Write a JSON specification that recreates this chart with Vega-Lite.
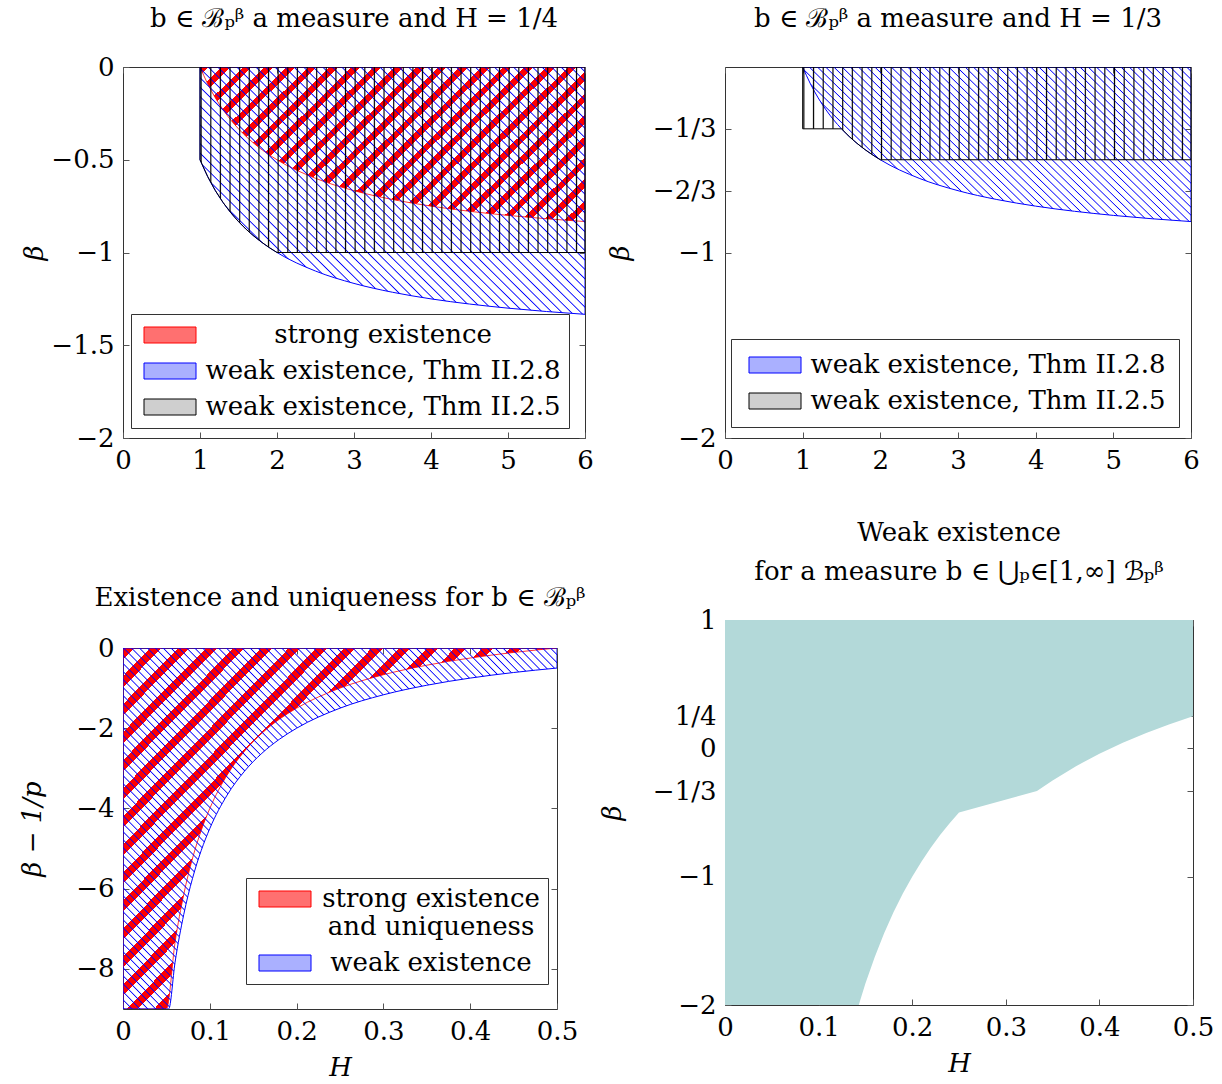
{
"$schema": "https://vega.github.io/schema/vega-lite/v6.json",
"background": "white",
"padding": {"left": 19, "top": 5, "right": 4, "bottom": 4},
"config": {
 "font": "DejaVu Serif",
 "view": {"stroke": "#333", "strokeWidth": 1},
 "axis": {"labelFont": "DejaVu Serif", "labelFontSize": 26, "labelColor": "#000", "titleFont": "DejaVu Serif", "titleFontSize": 26, "titleFontWeight": "normal", "titleFontStyle": "italic", "titleColor": "#000", "grid": false, "domain": false, "tickColor": "#555", "tickSize": -6, "labelFlush": false, "labelOverlap": false, "labelPadding": 15},
 "title": {"font": "DejaVu Serif", "fontSize": 26, "fontWeight": "normal", "color": "#000", "anchor": "middle"},
 "legend": {"orient": "none", "strokeColor": "#333", "fillColor": "#fff", "padding": 8, "symbolType": "M-1,-1H5.5V1H-1Z", "symbolSize": 256, "symbolStrokeWidth": 1, "labelFont": "DejaVu Serif", "labelFontSize": 26, "labelColor": "#000", "rowPadding": 10, "labelAlign": "center", "labelLimit": 600, "symbolOpacity": 1}
},
"resolve": {"scale": {"stroke": "independent", "fill": "independent"}},
"spacing": 4,
"hconcat": [
{"spacing": 110, "resolve": {"scale": {"stroke": "independent", "fill": "independent"}},
 "vconcat": [
 {"width": 462, "height": 371,
  "title": {"text": "b ∈ ℬₚᵝ a measure and H = 1/4", "offset": 22},
  "data": {"values": [
   {"s":"r","x":1,"lo":0},{"s":"r","x":1.1,"lo":-0.0909},{"s":"r","x":1.2,"lo":-0.1667},{"s":"r","x":1.3,"lo":-0.2308},{"s":"r","x":1.4,"lo":-0.2857},{"s":"r","x":1.5,"lo":-0.3333},{"s":"r","x":1.75,"lo":-0.4286},{"s":"r","x":2,"lo":-0.5},{"s":"r","x":2.5,"lo":-0.6},{"s":"r","x":3,"lo":-0.6667},{"s":"r","x":3.5,"lo":-0.7143},{"s":"r","x":4,"lo":-0.75},{"s":"r","x":4.5,"lo":-0.7778},{"s":"r","x":5,"lo":-0.8},{"s":"r","x":5.5,"lo":-0.8182},{"s":"r","x":6,"lo":-0.8333},
   {"s":"b","x":1,"lo":-0.5},{"s":"b","x":1.1,"lo":-0.5909},{"s":"b","x":1.2,"lo":-0.6667},{"s":"b","x":1.3,"lo":-0.7308},{"s":"b","x":1.4,"lo":-0.7857},{"s":"b","x":1.5,"lo":-0.8333},{"s":"b","x":1.75,"lo":-0.9286},{"s":"b","x":2,"lo":-1},{"s":"b","x":2.5,"lo":-1.1},{"s":"b","x":3,"lo":-1.1667},{"s":"b","x":3.5,"lo":-1.2143},{"s":"b","x":4,"lo":-1.25},{"s":"b","x":4.5,"lo":-1.2778},{"s":"b","x":5,"lo":-1.3},{"s":"b","x":5.5,"lo":-1.3182},{"s":"b","x":6,"lo":-1.3333},
   {"s":"k","x":1,"lo":-0.5},{"s":"k","x":1.1,"lo":-0.5909},{"s":"k","x":1.2,"lo":-0.6667},{"s":"k","x":1.3,"lo":-0.7308},{"s":"k","x":1.4,"lo":-0.7857},{"s":"k","x":1.5,"lo":-0.8333},{"s":"k","x":1.6,"lo":-0.875},{"s":"k","x":1.7,"lo":-0.9118},{"s":"k","x":1.8,"lo":-0.9444},{"s":"k","x":1.9,"lo":-0.9737},{"s":"k","x":2,"lo":-1},{"s":"k","x":6,"lo":-1}
  ]},
  "resolve": {"axis": {"x": "independent", "y": "independent"}},
  "layer": [
   {"transform": [{"filter": "datum.s=='r'"}],
    "mark": {"type": "area", "interpolate": "monotone", "clip": true, "stroke": "#f00", "strokeWidth": 0.8,
     "fill": {"gradient": "linear", "x1": 0, "y1": 0, "x2": 1.207, "y2": 0.491, "stops": [
{"offset":0,"color":"#f00"},{"offset":0.016,"color":"#f00"},{"offset":0.016,"color":"#f000"},{"offset":0.04,"color":"#f000"},
{"offset":0.04,"color":"#f00"},{"offset":0.056,"color":"#f00"},{"offset":0.056,"color":"#f000"},{"offset":0.08,"color":"#f000"},
{"offset":0.08,"color":"#f00"},{"offset":0.096,"color":"#f00"},{"offset":0.096,"color":"#f000"},{"offset":0.12,"color":"#f000"},
{"offset":0.12,"color":"#f00"},{"offset":0.136,"color":"#f00"},{"offset":0.136,"color":"#f000"},{"offset":0.16,"color":"#f000"},
{"offset":0.16,"color":"#f00"},{"offset":0.176,"color":"#f00"},{"offset":0.176,"color":"#f000"},{"offset":0.2,"color":"#f000"},
{"offset":0.2,"color":"#f00"},{"offset":0.216,"color":"#f00"},{"offset":0.216,"color":"#f000"},{"offset":0.24,"color":"#f000"},
{"offset":0.24,"color":"#f00"},{"offset":0.256,"color":"#f00"},{"offset":0.256,"color":"#f000"},{"offset":0.28,"color":"#f000"},
{"offset":0.28,"color":"#f00"},{"offset":0.296,"color":"#f00"},{"offset":0.296,"color":"#f000"},{"offset":0.32,"color":"#f000"},
{"offset":0.32,"color":"#f00"},{"offset":0.336,"color":"#f00"},{"offset":0.336,"color":"#f000"},{"offset":0.36,"color":"#f000"},
{"offset":0.36,"color":"#f00"},{"offset":0.376,"color":"#f00"},{"offset":0.376,"color":"#f000"},{"offset":0.4,"color":"#f000"},
{"offset":0.4,"color":"#f00"},{"offset":0.416,"color":"#f00"},{"offset":0.416,"color":"#f000"},{"offset":0.44,"color":"#f000"},
{"offset":0.44,"color":"#f00"},{"offset":0.456,"color":"#f00"},{"offset":0.456,"color":"#f000"},{"offset":0.48,"color":"#f000"},
{"offset":0.48,"color":"#f00"},{"offset":0.496,"color":"#f00"},{"offset":0.496,"color":"#f000"},{"offset":0.52,"color":"#f000"},
{"offset":0.52,"color":"#f00"},{"offset":0.536,"color":"#f00"},{"offset":0.536,"color":"#f000"},{"offset":0.56,"color":"#f000"},
{"offset":0.56,"color":"#f00"},{"offset":0.576,"color":"#f00"},{"offset":0.576,"color":"#f000"},{"offset":0.6,"color":"#f000"},
{"offset":0.6,"color":"#f00"},{"offset":0.616,"color":"#f00"},{"offset":0.616,"color":"#f000"},{"offset":0.64,"color":"#f000"},
{"offset":0.64,"color":"#f00"},{"offset":0.656,"color":"#f00"},{"offset":0.656,"color":"#f000"},{"offset":0.68,"color":"#f000"},
{"offset":0.68,"color":"#f00"},{"offset":0.696,"color":"#f00"},{"offset":0.696,"color":"#f000"},{"offset":0.72,"color":"#f000"},
{"offset":0.72,"color":"#f00"},{"offset":0.736,"color":"#f00"},{"offset":0.736,"color":"#f000"},{"offset":0.76,"color":"#f000"},
{"offset":0.76,"color":"#f00"},{"offset":0.776,"color":"#f00"},{"offset":0.776,"color":"#f000"},{"offset":0.8,"color":"#f000"},
{"offset":0.8,"color":"#f00"},{"offset":0.816,"color":"#f00"},{"offset":0.816,"color":"#f000"},{"offset":0.84,"color":"#f000"},
{"offset":0.84,"color":"#f00"},{"offset":0.856,"color":"#f00"},{"offset":0.856,"color":"#f000"},{"offset":0.88,"color":"#f000"},
{"offset":0.88,"color":"#f00"},{"offset":0.896,"color":"#f00"},{"offset":0.896,"color":"#f000"},{"offset":0.92,"color":"#f000"},
{"offset":0.92,"color":"#f00"},{"offset":0.936,"color":"#f00"},{"offset":0.936,"color":"#f000"},{"offset":0.96,"color":"#f000"},
{"offset":0.96,"color":"#f00"},{"offset":0.976,"color":"#f00"},{"offset":0.976,"color":"#f000"},{"offset":1,"color":"#f000"}
     ]}},
    "encoding": {
     "x": {"field": "x", "type": "quantitative", "scale": {"domain": [0, 6], "nice": false, "zero": false}, "axis": {"values": [0,1,2,3,4,5,6], "format": "~g", "title": null}},
     "y": {"field": "lo", "type": "quantitative", "scale": {"domain": [-2, 0], "nice": false, "zero": false}, "axis": {"values": [0,-0.5,-1,-1.5,-2], "format": "~g", "title": "β", "titlePadding": 3}},
     "y2": {"datum": 0}}},
   {"transform": [{"filter": "datum.s=='b'"}],
    "mark": {"type": "area", "interpolate": "monotone", "clip": true, "stroke": "#00f", "strokeWidth": 1,
     "fill": {"gradient": "linear", "x1": 0, "y1": 1, "x2": 1.16, "y2": 0.245, "stops": [
{"offset":0,"color":"#00f0"},{"offset":0.002,"color":"#00f"},{"offset":0.004,"color":"#00f0"},
{"offset":0.015,"color":"#00f0"},{"offset":0.017,"color":"#00f"},{"offset":0.019,"color":"#00f0"},
{"offset":0.03,"color":"#00f0"},{"offset":0.032,"color":"#00f"},{"offset":0.034,"color":"#00f0"},
{"offset":0.045,"color":"#00f0"},{"offset":0.047,"color":"#00f"},{"offset":0.049,"color":"#00f0"},
{"offset":0.06,"color":"#00f0"},{"offset":0.062,"color":"#00f"},{"offset":0.064,"color":"#00f0"},
{"offset":0.075,"color":"#00f0"},{"offset":0.077,"color":"#00f"},{"offset":0.079,"color":"#00f0"},
{"offset":0.09,"color":"#00f0"},{"offset":0.092,"color":"#00f"},{"offset":0.094,"color":"#00f0"},
{"offset":0.105,"color":"#00f0"},{"offset":0.107,"color":"#00f"},{"offset":0.109,"color":"#00f0"},
{"offset":0.12,"color":"#00f0"},{"offset":0.122,"color":"#00f"},{"offset":0.124,"color":"#00f0"},
{"offset":0.135,"color":"#00f0"},{"offset":0.137,"color":"#00f"},{"offset":0.139,"color":"#00f0"},
{"offset":0.15,"color":"#00f0"},{"offset":0.152,"color":"#00f"},{"offset":0.154,"color":"#00f0"},
{"offset":0.165,"color":"#00f0"},{"offset":0.167,"color":"#00f"},{"offset":0.169,"color":"#00f0"},
{"offset":0.18,"color":"#00f0"},{"offset":0.182,"color":"#00f"},{"offset":0.184,"color":"#00f0"},
{"offset":0.195,"color":"#00f0"},{"offset":0.197,"color":"#00f"},{"offset":0.199,"color":"#00f0"},
{"offset":0.21,"color":"#00f0"},{"offset":0.212,"color":"#00f"},{"offset":0.214,"color":"#00f0"},
{"offset":0.225,"color":"#00f0"},{"offset":0.227,"color":"#00f"},{"offset":0.229,"color":"#00f0"},
{"offset":0.24,"color":"#00f0"},{"offset":0.242,"color":"#00f"},{"offset":0.244,"color":"#00f0"},
{"offset":0.255,"color":"#00f0"},{"offset":0.257,"color":"#00f"},{"offset":0.259,"color":"#00f0"},
{"offset":0.27,"color":"#00f0"},{"offset":0.272,"color":"#00f"},{"offset":0.274,"color":"#00f0"},
{"offset":0.285,"color":"#00f0"},{"offset":0.287,"color":"#00f"},{"offset":0.289,"color":"#00f0"},
{"offset":0.3,"color":"#00f0"},{"offset":0.302,"color":"#00f"},{"offset":0.304,"color":"#00f0"},
{"offset":0.315,"color":"#00f0"},{"offset":0.317,"color":"#00f"},{"offset":0.319,"color":"#00f0"},
{"offset":0.33,"color":"#00f0"},{"offset":0.332,"color":"#00f"},{"offset":0.334,"color":"#00f0"},
{"offset":0.345,"color":"#00f0"},{"offset":0.347,"color":"#00f"},{"offset":0.349,"color":"#00f0"},
{"offset":0.36,"color":"#00f0"},{"offset":0.362,"color":"#00f"},{"offset":0.364,"color":"#00f0"},
{"offset":0.375,"color":"#00f0"},{"offset":0.377,"color":"#00f"},{"offset":0.379,"color":"#00f0"},
{"offset":0.39,"color":"#00f0"},{"offset":0.392,"color":"#00f"},{"offset":0.394,"color":"#00f0"},
{"offset":0.405,"color":"#00f0"},{"offset":0.407,"color":"#00f"},{"offset":0.409,"color":"#00f0"},
{"offset":0.42,"color":"#00f0"},{"offset":0.422,"color":"#00f"},{"offset":0.424,"color":"#00f0"},
{"offset":0.435,"color":"#00f0"},{"offset":0.437,"color":"#00f"},{"offset":0.439,"color":"#00f0"},
{"offset":0.45,"color":"#00f0"},{"offset":0.452,"color":"#00f"},{"offset":0.454,"color":"#00f0"},
{"offset":0.465,"color":"#00f0"},{"offset":0.467,"color":"#00f"},{"offset":0.469,"color":"#00f0"},
{"offset":0.48,"color":"#00f0"},{"offset":0.482,"color":"#00f"},{"offset":0.484,"color":"#00f0"},
{"offset":0.495,"color":"#00f0"},{"offset":0.497,"color":"#00f"},{"offset":0.499,"color":"#00f0"},
{"offset":0.51,"color":"#00f0"},{"offset":0.512,"color":"#00f"},{"offset":0.514,"color":"#00f0"},
{"offset":0.525,"color":"#00f0"},{"offset":0.527,"color":"#00f"},{"offset":0.529,"color":"#00f0"},
{"offset":0.54,"color":"#00f0"},{"offset":0.542,"color":"#00f"},{"offset":0.544,"color":"#00f0"},
{"offset":0.555,"color":"#00f0"},{"offset":0.557,"color":"#00f"},{"offset":0.559,"color":"#00f0"},
{"offset":0.57,"color":"#00f0"},{"offset":0.572,"color":"#00f"},{"offset":0.574,"color":"#00f0"},
{"offset":0.585,"color":"#00f0"},{"offset":0.587,"color":"#00f"},{"offset":0.589,"color":"#00f0"},
{"offset":0.6,"color":"#00f0"},{"offset":0.602,"color":"#00f"},{"offset":0.604,"color":"#00f0"},
{"offset":0.615,"color":"#00f0"},{"offset":0.617,"color":"#00f"},{"offset":0.619,"color":"#00f0"},
{"offset":0.63,"color":"#00f0"},{"offset":0.632,"color":"#00f"},{"offset":0.634,"color":"#00f0"},
{"offset":0.645,"color":"#00f0"},{"offset":0.647,"color":"#00f"},{"offset":0.649,"color":"#00f0"},
{"offset":0.66,"color":"#00f0"},{"offset":0.662,"color":"#00f"},{"offset":0.664,"color":"#00f0"},
{"offset":0.675,"color":"#00f0"},{"offset":0.677,"color":"#00f"},{"offset":0.679,"color":"#00f0"},
{"offset":0.69,"color":"#00f0"},{"offset":0.692,"color":"#00f"},{"offset":0.694,"color":"#00f0"},
{"offset":0.705,"color":"#00f0"},{"offset":0.707,"color":"#00f"},{"offset":0.709,"color":"#00f0"},
{"offset":0.72,"color":"#00f0"},{"offset":0.722,"color":"#00f"},{"offset":0.724,"color":"#00f0"},
{"offset":0.735,"color":"#00f0"},{"offset":0.737,"color":"#00f"},{"offset":0.739,"color":"#00f0"},
{"offset":0.75,"color":"#00f0"},{"offset":0.752,"color":"#00f"},{"offset":0.754,"color":"#00f0"},
{"offset":0.765,"color":"#00f0"},{"offset":0.767,"color":"#00f"},{"offset":0.769,"color":"#00f0"},
{"offset":0.78,"color":"#00f0"},{"offset":0.782,"color":"#00f"},{"offset":0.784,"color":"#00f0"},
{"offset":0.795,"color":"#00f0"},{"offset":0.797,"color":"#00f"},{"offset":0.799,"color":"#00f0"},
{"offset":0.81,"color":"#00f0"},{"offset":0.812,"color":"#00f"},{"offset":0.814,"color":"#00f0"},
{"offset":0.825,"color":"#00f0"},{"offset":0.827,"color":"#00f"},{"offset":0.829,"color":"#00f0"},
{"offset":0.84,"color":"#00f0"},{"offset":0.842,"color":"#00f"},{"offset":0.844,"color":"#00f0"},
{"offset":0.855,"color":"#00f0"},{"offset":0.857,"color":"#00f"},{"offset":0.859,"color":"#00f0"},
{"offset":0.87,"color":"#00f0"},{"offset":0.872,"color":"#00f"},{"offset":0.874,"color":"#00f0"},
{"offset":0.885,"color":"#00f0"},{"offset":0.887,"color":"#00f"},{"offset":0.889,"color":"#00f0"},
{"offset":0.9,"color":"#00f0"},{"offset":0.902,"color":"#00f"},{"offset":0.904,"color":"#00f0"},
{"offset":0.915,"color":"#00f0"},{"offset":0.917,"color":"#00f"},{"offset":0.919,"color":"#00f0"},
{"offset":0.93,"color":"#00f0"},{"offset":0.932,"color":"#00f"},{"offset":0.934,"color":"#00f0"},
{"offset":0.945,"color":"#00f0"},{"offset":0.947,"color":"#00f"},{"offset":0.949,"color":"#00f0"},
{"offset":0.96,"color":"#00f0"},{"offset":0.962,"color":"#00f"},{"offset":0.964,"color":"#00f0"},
{"offset":0.975,"color":"#00f0"},{"offset":0.977,"color":"#00f"},{"offset":0.979,"color":"#00f0"},
{"offset":0.99,"color":"#00f0"},{"offset":0.992,"color":"#00f"},{"offset":0.994,"color":"#00f0"}
     ]}},
    "encoding": {"x": {"field": "x", "type": "quantitative", "axis": null}, "y": {"field": "lo", "type": "quantitative", "axis": null}, "y2": {"datum": 0}}},
   {"transform": [{"filter": "datum.s=='k'"}],
    "mark": {"type": "area", "clip": true, "stroke": "#000", "strokeWidth": 1,
     "fill": {"gradient": "linear", "x1": 0, "y1": 0, "x2": 1, "y2": 0, "stops": [
{"offset":0,"color":"#0000"},{"offset":0.003,"color":"#000"},{"offset":0.006,"color":"#0000"},
{"offset":0.025,"color":"#0000"},{"offset":0.028,"color":"#000"},{"offset":0.031,"color":"#0000"},
{"offset":0.05,"color":"#0000"},{"offset":0.053,"color":"#000"},{"offset":0.056,"color":"#0000"},
{"offset":0.075,"color":"#0000"},{"offset":0.078,"color":"#000"},{"offset":0.081,"color":"#0000"},
{"offset":0.1,"color":"#0000"},{"offset":0.103,"color":"#000"},{"offset":0.106,"color":"#0000"},
{"offset":0.125,"color":"#0000"},{"offset":0.128,"color":"#000"},{"offset":0.131,"color":"#0000"},
{"offset":0.15,"color":"#0000"},{"offset":0.153,"color":"#000"},{"offset":0.156,"color":"#0000"},
{"offset":0.175,"color":"#0000"},{"offset":0.178,"color":"#000"},{"offset":0.181,"color":"#0000"},
{"offset":0.2,"color":"#0000"},{"offset":0.203,"color":"#000"},{"offset":0.206,"color":"#0000"},
{"offset":0.225,"color":"#0000"},{"offset":0.228,"color":"#000"},{"offset":0.231,"color":"#0000"},
{"offset":0.25,"color":"#0000"},{"offset":0.253,"color":"#000"},{"offset":0.256,"color":"#0000"},
{"offset":0.275,"color":"#0000"},{"offset":0.278,"color":"#000"},{"offset":0.281,"color":"#0000"},
{"offset":0.3,"color":"#0000"},{"offset":0.303,"color":"#000"},{"offset":0.306,"color":"#0000"},
{"offset":0.325,"color":"#0000"},{"offset":0.328,"color":"#000"},{"offset":0.331,"color":"#0000"},
{"offset":0.35,"color":"#0000"},{"offset":0.353,"color":"#000"},{"offset":0.356,"color":"#0000"},
{"offset":0.375,"color":"#0000"},{"offset":0.378,"color":"#000"},{"offset":0.381,"color":"#0000"},
{"offset":0.4,"color":"#0000"},{"offset":0.403,"color":"#000"},{"offset":0.406,"color":"#0000"},
{"offset":0.425,"color":"#0000"},{"offset":0.428,"color":"#000"},{"offset":0.431,"color":"#0000"},
{"offset":0.45,"color":"#0000"},{"offset":0.453,"color":"#000"},{"offset":0.456,"color":"#0000"},
{"offset":0.475,"color":"#0000"},{"offset":0.478,"color":"#000"},{"offset":0.481,"color":"#0000"},
{"offset":0.5,"color":"#0000"},{"offset":0.503,"color":"#000"},{"offset":0.506,"color":"#0000"},
{"offset":0.525,"color":"#0000"},{"offset":0.528,"color":"#000"},{"offset":0.531,"color":"#0000"},
{"offset":0.55,"color":"#0000"},{"offset":0.553,"color":"#000"},{"offset":0.556,"color":"#0000"},
{"offset":0.575,"color":"#0000"},{"offset":0.578,"color":"#000"},{"offset":0.581,"color":"#0000"},
{"offset":0.6,"color":"#0000"},{"offset":0.603,"color":"#000"},{"offset":0.606,"color":"#0000"},
{"offset":0.625,"color":"#0000"},{"offset":0.628,"color":"#000"},{"offset":0.631,"color":"#0000"},
{"offset":0.65,"color":"#0000"},{"offset":0.653,"color":"#000"},{"offset":0.656,"color":"#0000"},
{"offset":0.675,"color":"#0000"},{"offset":0.678,"color":"#000"},{"offset":0.681,"color":"#0000"},
{"offset":0.7,"color":"#0000"},{"offset":0.703,"color":"#000"},{"offset":0.706,"color":"#0000"},
{"offset":0.725,"color":"#0000"},{"offset":0.728,"color":"#000"},{"offset":0.731,"color":"#0000"},
{"offset":0.75,"color":"#0000"},{"offset":0.753,"color":"#000"},{"offset":0.756,"color":"#0000"},
{"offset":0.775,"color":"#0000"},{"offset":0.778,"color":"#000"},{"offset":0.781,"color":"#0000"},
{"offset":0.8,"color":"#0000"},{"offset":0.803,"color":"#000"},{"offset":0.806,"color":"#0000"},
{"offset":0.825,"color":"#0000"},{"offset":0.828,"color":"#000"},{"offset":0.831,"color":"#0000"},
{"offset":0.85,"color":"#0000"},{"offset":0.853,"color":"#000"},{"offset":0.856,"color":"#0000"},
{"offset":0.875,"color":"#0000"},{"offset":0.878,"color":"#000"},{"offset":0.881,"color":"#0000"},
{"offset":0.9,"color":"#0000"},{"offset":0.903,"color":"#000"},{"offset":0.906,"color":"#0000"},
{"offset":0.925,"color":"#0000"},{"offset":0.928,"color":"#000"},{"offset":0.931,"color":"#0000"},
{"offset":0.95,"color":"#0000"},{"offset":0.953,"color":"#000"},{"offset":0.956,"color":"#0000"},
{"offset":0.975,"color":"#0000"},{"offset":0.978,"color":"#000"},{"offset":0.981,"color":"#0000"}
     ]}},
    "encoding": {"x": {"field": "x", "type": "quantitative", "axis": null}, "y": {"field": "lo", "type": "quantitative", "axis": null}, "y2": {"datum": 0}}},
   {"data": {"values": [{"lg": "strong existence"}, {"lg": "weak existence, Thm II.2.8"}, {"lg": "weak existence, Thm II.2.5"}]},
    "mark": {"type": "rect", "clip": true},
    "encoding": {
     "x": {"datum": 0, "type": "quantitative", "axis": {"orient": "top", "labels": false, "title": null, "values": [0,1,2,3,4,5,6]}},
     "x2": {"datum": 0},
     "y": {"datum": 0, "type": "quantitative", "axis": {"orient": "right", "labels": false, "title": null, "values": [0,-0.5,-1,-1.5,-2]}},
     "y2": {"datum": 0},
     "fill": {"field": "lg", "type": "nominal", "scale": {"domain": ["strong existence", "weak existence, Thm II.2.8", "weak existence, Thm II.2.5"], "range": ["#ff7070", "#aab0ff", "#cfcfcf"]},
      "legend": {"title": null, "legendX": 8, "legendY": 247, "labelOffset": 218}},
     "stroke": {"field": "lg", "type": "nominal", "scale": {"domain": ["strong existence", "weak existence, Thm II.2.8", "weak existence, Thm II.2.5"], "range": ["#f00", "#00f", "#000"]},
      "legend": {"title": null, "legendX": 8, "legendY": 247, "labelOffset": 218}}
    }}
  ]
 },
 {"width": 434, "height": 361,
  "title": {"text": "Existence and uniqueness for b ∈ ℬₚᵝ", "offset": 24},
  "data": {"values": [
   {"s":"r","x":0,"lo":-9},{"s":"r","x":0.05,"lo":-9},{"s":"r","x":0.06,"lo":-7.3333},{"s":"r","x":0.07,"lo":-6.1429},{"s":"r","x":0.08,"lo":-5.25},{"s":"r","x":0.09,"lo":-4.5556},{"s":"r","x":0.1,"lo":-4},{"s":"r","x":0.12,"lo":-3.1667},{"s":"r","x":0.14,"lo":-2.5714},{"s":"r","x":0.16,"lo":-2.125},{"s":"r","x":0.18,"lo":-1.7778},{"s":"r","x":0.2,"lo":-1.5},{"s":"r","x":0.25,"lo":-1},{"s":"r","x":0.3,"lo":-0.6667},{"s":"r","x":0.35,"lo":-0.4286},{"s":"r","x":0.4,"lo":-0.25},{"s":"r","x":0.45,"lo":-0.1111},{"s":"r","x":0.5,"lo":0},
   {"s":"b","x":0,"lo":-9},{"s":"b","x":0.0526,"lo":-9},{"s":"b","x":0.06,"lo":-7.8333},{"s":"b","x":0.07,"lo":-6.6429},{"s":"b","x":0.08,"lo":-5.75},{"s":"b","x":0.09,"lo":-5.0556},{"s":"b","x":0.1,"lo":-4.5},{"s":"b","x":0.12,"lo":-3.6667},{"s":"b","x":0.14,"lo":-3.0714},{"s":"b","x":0.16,"lo":-2.625},{"s":"b","x":0.18,"lo":-2.2778},{"s":"b","x":0.2,"lo":-2},{"s":"b","x":0.25,"lo":-1.5},{"s":"b","x":0.3,"lo":-1.1667},{"s":"b","x":0.35,"lo":-0.9286},{"s":"b","x":0.4,"lo":-0.75},{"s":"b","x":0.45,"lo":-0.6111},{"s":"b","x":0.5,"lo":-0.5}
  ]},
  "resolve": {"axis": {"x": "independent", "y": "independent"}},
  "layer": [
   {"transform": [{"filter": "datum.s=='r'"}],
    "mark": {"type": "area", "interpolate": "monotone", "clip": true, "stroke": "#f00", "strokeWidth": 0.8,
     "fill": {"gradient": "linear", "x1": 0, "y1": 0, "x2": 1.088, "y2": 0.893, "stops": [
{"offset":0,"color":"#f00"},{"offset":0.014,"color":"#f00"},{"offset":0.014,"color":"#f000"},{"offset":0.035,"color":"#f000"},
{"offset":0.035,"color":"#f00"},{"offset":0.049,"color":"#f00"},{"offset":0.049,"color":"#f000"},{"offset":0.07,"color":"#f000"},
{"offset":0.07,"color":"#f00"},{"offset":0.084,"color":"#f00"},{"offset":0.084,"color":"#f000"},{"offset":0.105,"color":"#f000"},
{"offset":0.105,"color":"#f00"},{"offset":0.119,"color":"#f00"},{"offset":0.119,"color":"#f000"},{"offset":0.14,"color":"#f000"},
{"offset":0.14,"color":"#f00"},{"offset":0.154,"color":"#f00"},{"offset":0.154,"color":"#f000"},{"offset":0.175,"color":"#f000"},
{"offset":0.175,"color":"#f00"},{"offset":0.189,"color":"#f00"},{"offset":0.189,"color":"#f000"},{"offset":0.21,"color":"#f000"},
{"offset":0.21,"color":"#f00"},{"offset":0.224,"color":"#f00"},{"offset":0.224,"color":"#f000"},{"offset":0.245,"color":"#f000"},
{"offset":0.245,"color":"#f00"},{"offset":0.259,"color":"#f00"},{"offset":0.259,"color":"#f000"},{"offset":0.28,"color":"#f000"},
{"offset":0.28,"color":"#f00"},{"offset":0.294,"color":"#f00"},{"offset":0.294,"color":"#f000"},{"offset":0.315,"color":"#f000"},
{"offset":0.315,"color":"#f00"},{"offset":0.329,"color":"#f00"},{"offset":0.329,"color":"#f000"},{"offset":0.35,"color":"#f000"},
{"offset":0.35,"color":"#f00"},{"offset":0.364,"color":"#f00"},{"offset":0.364,"color":"#f000"},{"offset":0.385,"color":"#f000"},
{"offset":0.385,"color":"#f00"},{"offset":0.399,"color":"#f00"},{"offset":0.399,"color":"#f000"},{"offset":0.42,"color":"#f000"},
{"offset":0.42,"color":"#f00"},{"offset":0.434,"color":"#f00"},{"offset":0.434,"color":"#f000"},{"offset":0.455,"color":"#f000"},
{"offset":0.455,"color":"#f00"},{"offset":0.469,"color":"#f00"},{"offset":0.469,"color":"#f000"},{"offset":0.49,"color":"#f000"},
{"offset":0.49,"color":"#f00"},{"offset":0.504,"color":"#f00"},{"offset":0.504,"color":"#f000"},{"offset":0.525,"color":"#f000"},
{"offset":0.525,"color":"#f00"},{"offset":0.539,"color":"#f00"},{"offset":0.539,"color":"#f000"},{"offset":0.56,"color":"#f000"},
{"offset":0.56,"color":"#f00"},{"offset":0.574,"color":"#f00"},{"offset":0.574,"color":"#f000"},{"offset":0.595,"color":"#f000"},
{"offset":0.595,"color":"#f00"},{"offset":0.609,"color":"#f00"},{"offset":0.609,"color":"#f000"},{"offset":0.63,"color":"#f000"},
{"offset":0.63,"color":"#f00"},{"offset":0.644,"color":"#f00"},{"offset":0.644,"color":"#f000"},{"offset":0.665,"color":"#f000"},
{"offset":0.665,"color":"#f00"},{"offset":0.679,"color":"#f00"},{"offset":0.679,"color":"#f000"},{"offset":0.7,"color":"#f000"},
{"offset":0.7,"color":"#f00"},{"offset":0.714,"color":"#f00"},{"offset":0.714,"color":"#f000"},{"offset":0.735,"color":"#f000"},
{"offset":0.735,"color":"#f00"},{"offset":0.749,"color":"#f00"},{"offset":0.749,"color":"#f000"},{"offset":0.77,"color":"#f000"},
{"offset":0.77,"color":"#f00"},{"offset":0.784,"color":"#f00"},{"offset":0.784,"color":"#f000"},{"offset":0.805,"color":"#f000"},
{"offset":0.805,"color":"#f00"},{"offset":0.819,"color":"#f00"},{"offset":0.819,"color":"#f000"},{"offset":0.84,"color":"#f000"},
{"offset":0.84,"color":"#f00"},{"offset":0.854,"color":"#f00"},{"offset":0.854,"color":"#f000"},{"offset":0.875,"color":"#f000"},
{"offset":0.875,"color":"#f00"},{"offset":0.889,"color":"#f00"},{"offset":0.889,"color":"#f000"},{"offset":0.91,"color":"#f000"},
{"offset":0.91,"color":"#f00"},{"offset":0.924,"color":"#f00"},{"offset":0.924,"color":"#f000"},{"offset":0.945,"color":"#f000"},
{"offset":0.945,"color":"#f00"},{"offset":0.959,"color":"#f00"},{"offset":0.959,"color":"#f000"},{"offset":0.98,"color":"#f000"},
{"offset":0.98,"color":"#f00"},{"offset":0.994,"color":"#f00"},{"offset":0.994,"color":"#f000"},{"offset":1,"color":"#f000"}
     ]}},
    "encoding": {
     "x": {"field": "x", "type": "quantitative", "scale": {"domain": [0, 0.5], "nice": false, "zero": false}, "axis": {"values": [0,0.1,0.2,0.3,0.4,0.5], "format": "~g", "title": "H", "titlePadding": 10}},
     "y": {"field": "lo", "type": "quantitative", "scale": {"domain": [-9, 0], "nice": false, "zero": false}, "axis": {"values": [0,-2,-4,-6,-8], "format": "~g", "title": "β − 1/p", "titlePadding": 30}},
     "y2": {"datum": 0}}},
   {"transform": [{"filter": "datum.s=='b'"}],
    "mark": {"type": "area", "interpolate": "monotone", "clip": true, "stroke": "#00f", "strokeWidth": 1,
     "fill": {"gradient": "linear", "x1": 0, "y1": 1, "x2": 1.088, "y2": 0.107, "stops": [
{"offset":0,"color":"#00f0"},{"offset":0.0015,"color":"#00f"},{"offset":0.003,"color":"#00f0"},
{"offset":0.01,"color":"#00f0"},{"offset":0.0115,"color":"#00f"},{"offset":0.013,"color":"#00f0"},
{"offset":0.02,"color":"#00f0"},{"offset":0.0215,"color":"#00f"},{"offset":0.023,"color":"#00f0"},
{"offset":0.03,"color":"#00f0"},{"offset":0.0315,"color":"#00f"},{"offset":0.033,"color":"#00f0"},
{"offset":0.04,"color":"#00f0"},{"offset":0.0415,"color":"#00f"},{"offset":0.043,"color":"#00f0"},
{"offset":0.05,"color":"#00f0"},{"offset":0.0515,"color":"#00f"},{"offset":0.053,"color":"#00f0"},
{"offset":0.06,"color":"#00f0"},{"offset":0.0615,"color":"#00f"},{"offset":0.063,"color":"#00f0"},
{"offset":0.07,"color":"#00f0"},{"offset":0.0715,"color":"#00f"},{"offset":0.073,"color":"#00f0"},
{"offset":0.08,"color":"#00f0"},{"offset":0.0815,"color":"#00f"},{"offset":0.083,"color":"#00f0"},
{"offset":0.09,"color":"#00f0"},{"offset":0.0915,"color":"#00f"},{"offset":0.093,"color":"#00f0"},
{"offset":0.1,"color":"#00f0"},{"offset":0.1015,"color":"#00f"},{"offset":0.103,"color":"#00f0"},
{"offset":0.11,"color":"#00f0"},{"offset":0.1115,"color":"#00f"},{"offset":0.113,"color":"#00f0"},
{"offset":0.12,"color":"#00f0"},{"offset":0.1215,"color":"#00f"},{"offset":0.123,"color":"#00f0"},
{"offset":0.13,"color":"#00f0"},{"offset":0.1315,"color":"#00f"},{"offset":0.133,"color":"#00f0"},
{"offset":0.14,"color":"#00f0"},{"offset":0.1415,"color":"#00f"},{"offset":0.143,"color":"#00f0"},
{"offset":0.15,"color":"#00f0"},{"offset":0.1515,"color":"#00f"},{"offset":0.153,"color":"#00f0"},
{"offset":0.16,"color":"#00f0"},{"offset":0.1615,"color":"#00f"},{"offset":0.163,"color":"#00f0"},
{"offset":0.17,"color":"#00f0"},{"offset":0.1715,"color":"#00f"},{"offset":0.173,"color":"#00f0"},
{"offset":0.18,"color":"#00f0"},{"offset":0.1815,"color":"#00f"},{"offset":0.183,"color":"#00f0"},
{"offset":0.19,"color":"#00f0"},{"offset":0.1915,"color":"#00f"},{"offset":0.193,"color":"#00f0"},
{"offset":0.2,"color":"#00f0"},{"offset":0.2015,"color":"#00f"},{"offset":0.203,"color":"#00f0"},
{"offset":0.21,"color":"#00f0"},{"offset":0.2115,"color":"#00f"},{"offset":0.213,"color":"#00f0"},
{"offset":0.22,"color":"#00f0"},{"offset":0.2215,"color":"#00f"},{"offset":0.223,"color":"#00f0"},
{"offset":0.23,"color":"#00f0"},{"offset":0.2315,"color":"#00f"},{"offset":0.233,"color":"#00f0"},
{"offset":0.24,"color":"#00f0"},{"offset":0.2415,"color":"#00f"},{"offset":0.243,"color":"#00f0"},
{"offset":0.25,"color":"#00f0"},{"offset":0.2515,"color":"#00f"},{"offset":0.253,"color":"#00f0"},
{"offset":0.26,"color":"#00f0"},{"offset":0.2615,"color":"#00f"},{"offset":0.263,"color":"#00f0"},
{"offset":0.27,"color":"#00f0"},{"offset":0.2715,"color":"#00f"},{"offset":0.273,"color":"#00f0"},
{"offset":0.28,"color":"#00f0"},{"offset":0.2815,"color":"#00f"},{"offset":0.283,"color":"#00f0"},
{"offset":0.29,"color":"#00f0"},{"offset":0.2915,"color":"#00f"},{"offset":0.293,"color":"#00f0"},
{"offset":0.3,"color":"#00f0"},{"offset":0.3015,"color":"#00f"},{"offset":0.303,"color":"#00f0"},
{"offset":0.31,"color":"#00f0"},{"offset":0.3115,"color":"#00f"},{"offset":0.313,"color":"#00f0"},
{"offset":0.32,"color":"#00f0"},{"offset":0.3215,"color":"#00f"},{"offset":0.323,"color":"#00f0"},
{"offset":0.33,"color":"#00f0"},{"offset":0.3315,"color":"#00f"},{"offset":0.333,"color":"#00f0"},
{"offset":0.34,"color":"#00f0"},{"offset":0.3415,"color":"#00f"},{"offset":0.343,"color":"#00f0"},
{"offset":0.35,"color":"#00f0"},{"offset":0.3515,"color":"#00f"},{"offset":0.353,"color":"#00f0"},
{"offset":0.36,"color":"#00f0"},{"offset":0.3615,"color":"#00f"},{"offset":0.363,"color":"#00f0"},
{"offset":0.37,"color":"#00f0"},{"offset":0.3715,"color":"#00f"},{"offset":0.373,"color":"#00f0"},
{"offset":0.38,"color":"#00f0"},{"offset":0.3815,"color":"#00f"},{"offset":0.383,"color":"#00f0"},
{"offset":0.39,"color":"#00f0"},{"offset":0.3915,"color":"#00f"},{"offset":0.393,"color":"#00f0"},
{"offset":0.4,"color":"#00f0"},{"offset":0.4015,"color":"#00f"},{"offset":0.403,"color":"#00f0"},
{"offset":0.41,"color":"#00f0"},{"offset":0.4115,"color":"#00f"},{"offset":0.413,"color":"#00f0"},
{"offset":0.42,"color":"#00f0"},{"offset":0.4215,"color":"#00f"},{"offset":0.423,"color":"#00f0"},
{"offset":0.43,"color":"#00f0"},{"offset":0.4315,"color":"#00f"},{"offset":0.433,"color":"#00f0"},
{"offset":0.44,"color":"#00f0"},{"offset":0.4415,"color":"#00f"},{"offset":0.443,"color":"#00f0"},
{"offset":0.45,"color":"#00f0"},{"offset":0.4515,"color":"#00f"},{"offset":0.453,"color":"#00f0"},
{"offset":0.46,"color":"#00f0"},{"offset":0.4615,"color":"#00f"},{"offset":0.463,"color":"#00f0"},
{"offset":0.47,"color":"#00f0"},{"offset":0.4715,"color":"#00f"},{"offset":0.473,"color":"#00f0"},
{"offset":0.48,"color":"#00f0"},{"offset":0.4815,"color":"#00f"},{"offset":0.483,"color":"#00f0"},
{"offset":0.49,"color":"#00f0"},{"offset":0.4915,"color":"#00f"},{"offset":0.493,"color":"#00f0"},
{"offset":0.5,"color":"#00f0"},{"offset":0.5015,"color":"#00f"},{"offset":0.503,"color":"#00f0"},
{"offset":0.51,"color":"#00f0"},{"offset":0.5115,"color":"#00f"},{"offset":0.513,"color":"#00f0"},
{"offset":0.52,"color":"#00f0"},{"offset":0.5215,"color":"#00f"},{"offset":0.523,"color":"#00f0"},
{"offset":0.53,"color":"#00f0"},{"offset":0.5315,"color":"#00f"},{"offset":0.533,"color":"#00f0"},
{"offset":0.54,"color":"#00f0"},{"offset":0.5415,"color":"#00f"},{"offset":0.543,"color":"#00f0"},
{"offset":0.55,"color":"#00f0"},{"offset":0.5515,"color":"#00f"},{"offset":0.553,"color":"#00f0"},
{"offset":0.56,"color":"#00f0"},{"offset":0.5615,"color":"#00f"},{"offset":0.563,"color":"#00f0"},
{"offset":0.57,"color":"#00f0"},{"offset":0.5715,"color":"#00f"},{"offset":0.573,"color":"#00f0"},
{"offset":0.58,"color":"#00f0"},{"offset":0.5815,"color":"#00f"},{"offset":0.583,"color":"#00f0"},
{"offset":0.59,"color":"#00f0"},{"offset":0.5915,"color":"#00f"},{"offset":0.593,"color":"#00f0"},
{"offset":0.6,"color":"#00f0"},{"offset":0.6015,"color":"#00f"},{"offset":0.603,"color":"#00f0"},
{"offset":0.61,"color":"#00f0"},{"offset":0.6115,"color":"#00f"},{"offset":0.613,"color":"#00f0"},
{"offset":0.62,"color":"#00f0"},{"offset":0.6215,"color":"#00f"},{"offset":0.623,"color":"#00f0"},
{"offset":0.63,"color":"#00f0"},{"offset":0.6315,"color":"#00f"},{"offset":0.633,"color":"#00f0"},
{"offset":0.64,"color":"#00f0"},{"offset":0.6415,"color":"#00f"},{"offset":0.643,"color":"#00f0"},
{"offset":0.65,"color":"#00f0"},{"offset":0.6515,"color":"#00f"},{"offset":0.653,"color":"#00f0"},
{"offset":0.66,"color":"#00f0"},{"offset":0.6615,"color":"#00f"},{"offset":0.663,"color":"#00f0"},
{"offset":0.67,"color":"#00f0"},{"offset":0.6715,"color":"#00f"},{"offset":0.673,"color":"#00f0"},
{"offset":0.68,"color":"#00f0"},{"offset":0.6815,"color":"#00f"},{"offset":0.683,"color":"#00f0"},
{"offset":0.69,"color":"#00f0"},{"offset":0.6915,"color":"#00f"},{"offset":0.693,"color":"#00f0"},
{"offset":0.7,"color":"#00f0"},{"offset":0.7015,"color":"#00f"},{"offset":0.703,"color":"#00f0"},
{"offset":0.71,"color":"#00f0"},{"offset":0.7115,"color":"#00f"},{"offset":0.713,"color":"#00f0"},
{"offset":0.72,"color":"#00f0"},{"offset":0.7215,"color":"#00f"},{"offset":0.723,"color":"#00f0"},
{"offset":0.73,"color":"#00f0"},{"offset":0.7315,"color":"#00f"},{"offset":0.733,"color":"#00f0"},
{"offset":0.74,"color":"#00f0"},{"offset":0.7415,"color":"#00f"},{"offset":0.743,"color":"#00f0"},
{"offset":0.75,"color":"#00f0"},{"offset":0.7515,"color":"#00f"},{"offset":0.753,"color":"#00f0"},
{"offset":0.76,"color":"#00f0"},{"offset":0.7615,"color":"#00f"},{"offset":0.763,"color":"#00f0"},
{"offset":0.77,"color":"#00f0"},{"offset":0.7715,"color":"#00f"},{"offset":0.773,"color":"#00f0"},
{"offset":0.78,"color":"#00f0"},{"offset":0.7815,"color":"#00f"},{"offset":0.783,"color":"#00f0"},
{"offset":0.79,"color":"#00f0"},{"offset":0.7915,"color":"#00f"},{"offset":0.793,"color":"#00f0"},
{"offset":0.8,"color":"#00f0"},{"offset":0.8015,"color":"#00f"},{"offset":0.803,"color":"#00f0"},
{"offset":0.81,"color":"#00f0"},{"offset":0.8115,"color":"#00f"},{"offset":0.813,"color":"#00f0"},
{"offset":0.82,"color":"#00f0"},{"offset":0.8215,"color":"#00f"},{"offset":0.823,"color":"#00f0"},
{"offset":0.83,"color":"#00f0"},{"offset":0.8315,"color":"#00f"},{"offset":0.833,"color":"#00f0"},
{"offset":0.84,"color":"#00f0"},{"offset":0.8415,"color":"#00f"},{"offset":0.843,"color":"#00f0"},
{"offset":0.85,"color":"#00f0"},{"offset":0.8515,"color":"#00f"},{"offset":0.853,"color":"#00f0"},
{"offset":0.86,"color":"#00f0"},{"offset":0.8615,"color":"#00f"},{"offset":0.863,"color":"#00f0"},
{"offset":0.87,"color":"#00f0"},{"offset":0.8715,"color":"#00f"},{"offset":0.873,"color":"#00f0"},
{"offset":0.88,"color":"#00f0"},{"offset":0.8815,"color":"#00f"},{"offset":0.883,"color":"#00f0"},
{"offset":0.89,"color":"#00f0"},{"offset":0.8915,"color":"#00f"},{"offset":0.893,"color":"#00f0"},
{"offset":0.9,"color":"#00f0"},{"offset":0.9015,"color":"#00f"},{"offset":0.903,"color":"#00f0"},
{"offset":0.91,"color":"#00f0"},{"offset":0.9115,"color":"#00f"},{"offset":0.913,"color":"#00f0"},
{"offset":0.92,"color":"#00f0"},{"offset":0.9215,"color":"#00f"},{"offset":0.923,"color":"#00f0"},
{"offset":0.93,"color":"#00f0"},{"offset":0.9315,"color":"#00f"},{"offset":0.933,"color":"#00f0"},
{"offset":0.94,"color":"#00f0"},{"offset":0.9415,"color":"#00f"},{"offset":0.943,"color":"#00f0"},
{"offset":0.95,"color":"#00f0"},{"offset":0.9515,"color":"#00f"},{"offset":0.953,"color":"#00f0"},
{"offset":0.96,"color":"#00f0"},{"offset":0.9615,"color":"#00f"},{"offset":0.963,"color":"#00f0"},
{"offset":0.97,"color":"#00f0"},{"offset":0.9715,"color":"#00f"},{"offset":0.973,"color":"#00f0"},
{"offset":0.98,"color":"#00f0"},{"offset":0.9815,"color":"#00f"},{"offset":0.983,"color":"#00f0"},
{"offset":0.99,"color":"#00f0"},{"offset":0.9915,"color":"#00f"},{"offset":0.993,"color":"#00f0"}
     ]}},
    "encoding": {"x": {"field": "x", "type": "quantitative", "axis": null}, "y": {"field": "lo", "type": "quantitative", "axis": null}, "y2": {"datum": 0}}},
   {"data": {"values": [{"lg": "strong existence and uniqueness"}, {"lg": "weak existence"}]},
    "mark": {"type": "rect", "clip": true},
    "encoding": {
     "x": {"datum": 0, "type": "quantitative", "axis": {"orient": "top", "labels": false, "title": null, "values": [0,0.1,0.2,0.3,0.4,0.5]}},
     "x2": {"datum": 0},
     "y": {"datum": 0, "type": "quantitative", "axis": {"orient": "right", "labels": false, "title": null, "values": [0,-2,-4,-6,-8]}},
     "y2": {"datum": 0},
     "fill": {"field": "lg", "type": "nominal", "scale": {"domain": ["strong existence and uniqueness", "weak existence"], "range": ["#ff7070", "#aab0ff"]},
      "legend": {"title": null, "legendX": 123, "legendY": 230, "labelOffset": 151, "rowPadding": 10,
       "labelExpr": "datum.label == 'strong existence and uniqueness' ? ['strong existence', 'and uniqueness'] : datum.label"}},
     "stroke": {"field": "lg", "type": "nominal", "scale": {"domain": ["strong existence and uniqueness", "weak existence"], "range": ["#f00", "#00f"]},
      "legend": {"title": null, "legendX": 123, "legendY": 230, "labelOffset": 151, "rowPadding": 10,
       "labelExpr": "datum.label == 'strong existence and uniqueness' ? ['strong existence', 'and uniqueness'] : datum.label"}}
    }}
  ]
 }
 ]
},
{"spacing": 45, "resolve": {"scale": {"stroke": "independent", "fill": "independent"}},
 "vconcat": [
 {"width": 466, "height": 371,
  "title": {"text": "b ∈ ℬₚᵝ a measure and H = 1/3", "offset": 35},
  "data": {"values": [
   {"s":"b","x":1,"lo":0},{"s":"b","x":1.1,"lo":-0.0909},{"s":"b","x":1.2,"lo":-0.1667},{"s":"b","x":1.3,"lo":-0.2308},{"s":"b","x":1.4,"lo":-0.2857},{"s":"b","x":1.5,"lo":-0.3333},{"s":"b","x":1.75,"lo":-0.4286},{"s":"b","x":2,"lo":-0.5},{"s":"b","x":2.5,"lo":-0.6},{"s":"b","x":3,"lo":-0.6667},{"s":"b","x":3.5,"lo":-0.7143},{"s":"b","x":4,"lo":-0.75},{"s":"b","x":4.5,"lo":-0.7778},{"s":"b","x":5,"lo":-0.8},{"s":"b","x":5.5,"lo":-0.8182},{"s":"b","x":6,"lo":-0.8333},
   {"s":"k","x":1,"lo":-0.3333},{"s":"k","x":1.5,"lo":-0.3333},{"s":"k","x":1.6,"lo":-0.375},{"s":"k","x":1.7,"lo":-0.4118},{"s":"k","x":1.8,"lo":-0.4444},{"s":"k","x":1.9,"lo":-0.4737},{"s":"k","x":2,"lo":-0.5},{"s":"k","x":6,"lo":-0.5}
  ]},
  "resolve": {"axis": {"x": "independent", "y": "independent"}},
  "layer": [
   {"transform": [{"filter": "datum.s=='b'"}],
    "mark": {"type": "area", "interpolate": "monotone", "clip": true, "stroke": "#00f", "strokeWidth": 1,
     "fill": {"gradient": "linear", "x1": 0, "y1": 1, "x2": 1.207, "y2": 0.507, "stops": [
{"offset":0,"color":"#00f0"},{"offset":0.002,"color":"#00f"},{"offset":0.004,"color":"#00f0"},
{"offset":0.015,"color":"#00f0"},{"offset":0.017,"color":"#00f"},{"offset":0.019,"color":"#00f0"},
{"offset":0.03,"color":"#00f0"},{"offset":0.032,"color":"#00f"},{"offset":0.034,"color":"#00f0"},
{"offset":0.045,"color":"#00f0"},{"offset":0.047,"color":"#00f"},{"offset":0.049,"color":"#00f0"},
{"offset":0.06,"color":"#00f0"},{"offset":0.062,"color":"#00f"},{"offset":0.064,"color":"#00f0"},
{"offset":0.075,"color":"#00f0"},{"offset":0.077,"color":"#00f"},{"offset":0.079,"color":"#00f0"},
{"offset":0.09,"color":"#00f0"},{"offset":0.092,"color":"#00f"},{"offset":0.094,"color":"#00f0"},
{"offset":0.105,"color":"#00f0"},{"offset":0.107,"color":"#00f"},{"offset":0.109,"color":"#00f0"},
{"offset":0.12,"color":"#00f0"},{"offset":0.122,"color":"#00f"},{"offset":0.124,"color":"#00f0"},
{"offset":0.135,"color":"#00f0"},{"offset":0.137,"color":"#00f"},{"offset":0.139,"color":"#00f0"},
{"offset":0.15,"color":"#00f0"},{"offset":0.152,"color":"#00f"},{"offset":0.154,"color":"#00f0"},
{"offset":0.165,"color":"#00f0"},{"offset":0.167,"color":"#00f"},{"offset":0.169,"color":"#00f0"},
{"offset":0.18,"color":"#00f0"},{"offset":0.182,"color":"#00f"},{"offset":0.184,"color":"#00f0"},
{"offset":0.195,"color":"#00f0"},{"offset":0.197,"color":"#00f"},{"offset":0.199,"color":"#00f0"},
{"offset":0.21,"color":"#00f0"},{"offset":0.212,"color":"#00f"},{"offset":0.214,"color":"#00f0"},
{"offset":0.225,"color":"#00f0"},{"offset":0.227,"color":"#00f"},{"offset":0.229,"color":"#00f0"},
{"offset":0.24,"color":"#00f0"},{"offset":0.242,"color":"#00f"},{"offset":0.244,"color":"#00f0"},
{"offset":0.255,"color":"#00f0"},{"offset":0.257,"color":"#00f"},{"offset":0.259,"color":"#00f0"},
{"offset":0.27,"color":"#00f0"},{"offset":0.272,"color":"#00f"},{"offset":0.274,"color":"#00f0"},
{"offset":0.285,"color":"#00f0"},{"offset":0.287,"color":"#00f"},{"offset":0.289,"color":"#00f0"},
{"offset":0.3,"color":"#00f0"},{"offset":0.302,"color":"#00f"},{"offset":0.304,"color":"#00f0"},
{"offset":0.315,"color":"#00f0"},{"offset":0.317,"color":"#00f"},{"offset":0.319,"color":"#00f0"},
{"offset":0.33,"color":"#00f0"},{"offset":0.332,"color":"#00f"},{"offset":0.334,"color":"#00f0"},
{"offset":0.345,"color":"#00f0"},{"offset":0.347,"color":"#00f"},{"offset":0.349,"color":"#00f0"},
{"offset":0.36,"color":"#00f0"},{"offset":0.362,"color":"#00f"},{"offset":0.364,"color":"#00f0"},
{"offset":0.375,"color":"#00f0"},{"offset":0.377,"color":"#00f"},{"offset":0.379,"color":"#00f0"},
{"offset":0.39,"color":"#00f0"},{"offset":0.392,"color":"#00f"},{"offset":0.394,"color":"#00f0"},
{"offset":0.405,"color":"#00f0"},{"offset":0.407,"color":"#00f"},{"offset":0.409,"color":"#00f0"},
{"offset":0.42,"color":"#00f0"},{"offset":0.422,"color":"#00f"},{"offset":0.424,"color":"#00f0"},
{"offset":0.435,"color":"#00f0"},{"offset":0.437,"color":"#00f"},{"offset":0.439,"color":"#00f0"},
{"offset":0.45,"color":"#00f0"},{"offset":0.452,"color":"#00f"},{"offset":0.454,"color":"#00f0"},
{"offset":0.465,"color":"#00f0"},{"offset":0.467,"color":"#00f"},{"offset":0.469,"color":"#00f0"},
{"offset":0.48,"color":"#00f0"},{"offset":0.482,"color":"#00f"},{"offset":0.484,"color":"#00f0"},
{"offset":0.495,"color":"#00f0"},{"offset":0.497,"color":"#00f"},{"offset":0.499,"color":"#00f0"},
{"offset":0.51,"color":"#00f0"},{"offset":0.512,"color":"#00f"},{"offset":0.514,"color":"#00f0"},
{"offset":0.525,"color":"#00f0"},{"offset":0.527,"color":"#00f"},{"offset":0.529,"color":"#00f0"},
{"offset":0.54,"color":"#00f0"},{"offset":0.542,"color":"#00f"},{"offset":0.544,"color":"#00f0"},
{"offset":0.555,"color":"#00f0"},{"offset":0.557,"color":"#00f"},{"offset":0.559,"color":"#00f0"},
{"offset":0.57,"color":"#00f0"},{"offset":0.572,"color":"#00f"},{"offset":0.574,"color":"#00f0"},
{"offset":0.585,"color":"#00f0"},{"offset":0.587,"color":"#00f"},{"offset":0.589,"color":"#00f0"},
{"offset":0.6,"color":"#00f0"},{"offset":0.602,"color":"#00f"},{"offset":0.604,"color":"#00f0"},
{"offset":0.615,"color":"#00f0"},{"offset":0.617,"color":"#00f"},{"offset":0.619,"color":"#00f0"},
{"offset":0.63,"color":"#00f0"},{"offset":0.632,"color":"#00f"},{"offset":0.634,"color":"#00f0"},
{"offset":0.645,"color":"#00f0"},{"offset":0.647,"color":"#00f"},{"offset":0.649,"color":"#00f0"},
{"offset":0.66,"color":"#00f0"},{"offset":0.662,"color":"#00f"},{"offset":0.664,"color":"#00f0"},
{"offset":0.675,"color":"#00f0"},{"offset":0.677,"color":"#00f"},{"offset":0.679,"color":"#00f0"},
{"offset":0.69,"color":"#00f0"},{"offset":0.692,"color":"#00f"},{"offset":0.694,"color":"#00f0"},
{"offset":0.705,"color":"#00f0"},{"offset":0.707,"color":"#00f"},{"offset":0.709,"color":"#00f0"},
{"offset":0.72,"color":"#00f0"},{"offset":0.722,"color":"#00f"},{"offset":0.724,"color":"#00f0"},
{"offset":0.735,"color":"#00f0"},{"offset":0.737,"color":"#00f"},{"offset":0.739,"color":"#00f0"},
{"offset":0.75,"color":"#00f0"},{"offset":0.752,"color":"#00f"},{"offset":0.754,"color":"#00f0"},
{"offset":0.765,"color":"#00f0"},{"offset":0.767,"color":"#00f"},{"offset":0.769,"color":"#00f0"},
{"offset":0.78,"color":"#00f0"},{"offset":0.782,"color":"#00f"},{"offset":0.784,"color":"#00f0"},
{"offset":0.795,"color":"#00f0"},{"offset":0.797,"color":"#00f"},{"offset":0.799,"color":"#00f0"},
{"offset":0.81,"color":"#00f0"},{"offset":0.812,"color":"#00f"},{"offset":0.814,"color":"#00f0"},
{"offset":0.825,"color":"#00f0"},{"offset":0.827,"color":"#00f"},{"offset":0.829,"color":"#00f0"},
{"offset":0.84,"color":"#00f0"},{"offset":0.842,"color":"#00f"},{"offset":0.844,"color":"#00f0"},
{"offset":0.855,"color":"#00f0"},{"offset":0.857,"color":"#00f"},{"offset":0.859,"color":"#00f0"},
{"offset":0.87,"color":"#00f0"},{"offset":0.872,"color":"#00f"},{"offset":0.874,"color":"#00f0"},
{"offset":0.885,"color":"#00f0"},{"offset":0.887,"color":"#00f"},{"offset":0.889,"color":"#00f0"},
{"offset":0.9,"color":"#00f0"},{"offset":0.902,"color":"#00f"},{"offset":0.904,"color":"#00f0"},
{"offset":0.915,"color":"#00f0"},{"offset":0.917,"color":"#00f"},{"offset":0.919,"color":"#00f0"},
{"offset":0.93,"color":"#00f0"},{"offset":0.932,"color":"#00f"},{"offset":0.934,"color":"#00f0"},
{"offset":0.945,"color":"#00f0"},{"offset":0.947,"color":"#00f"},{"offset":0.949,"color":"#00f0"},
{"offset":0.96,"color":"#00f0"},{"offset":0.962,"color":"#00f"},{"offset":0.964,"color":"#00f0"},
{"offset":0.975,"color":"#00f0"},{"offset":0.977,"color":"#00f"},{"offset":0.979,"color":"#00f0"},
{"offset":0.99,"color":"#00f0"},{"offset":0.992,"color":"#00f"},{"offset":0.994,"color":"#00f0"}
     ]}},
    "encoding": {
     "x": {"field": "x", "type": "quantitative", "scale": {"domain": [0, 6], "nice": false, "zero": false}, "axis": {"values": [0,1,2,3,4,5,6], "format": "~g", "title": null}},
     "y": {"field": "lo", "type": "quantitative", "scale": {"domain": [-2, 0], "nice": false, "zero": false}, "axis": {"values": [-0.333333,-0.666667,-1,-2], "labelExpr": "datum.value > -0.5 ? '−1/3' : datum.value > -0.8 ? '−2/3' : datum.value > -1.5 ? '−1' : '−2'", "title": "β", "titlePadding": 19}},
     "y2": {"datum": 0}}},
   {"transform": [{"filter": "datum.s=='k'"}],
    "mark": {"type": "area", "clip": true, "stroke": "#000", "strokeWidth": 1,
     "fill": {"gradient": "linear", "x1": 0, "y1": 0, "x2": 1, "y2": 0, "stops": [
{"offset":0,"color":"#0000"},{"offset":0.003,"color":"#000"},{"offset":0.006,"color":"#0000"},
{"offset":0.025,"color":"#0000"},{"offset":0.028,"color":"#000"},{"offset":0.031,"color":"#0000"},
{"offset":0.05,"color":"#0000"},{"offset":0.053,"color":"#000"},{"offset":0.056,"color":"#0000"},
{"offset":0.075,"color":"#0000"},{"offset":0.078,"color":"#000"},{"offset":0.081,"color":"#0000"},
{"offset":0.1,"color":"#0000"},{"offset":0.103,"color":"#000"},{"offset":0.106,"color":"#0000"},
{"offset":0.125,"color":"#0000"},{"offset":0.128,"color":"#000"},{"offset":0.131,"color":"#0000"},
{"offset":0.15,"color":"#0000"},{"offset":0.153,"color":"#000"},{"offset":0.156,"color":"#0000"},
{"offset":0.175,"color":"#0000"},{"offset":0.178,"color":"#000"},{"offset":0.181,"color":"#0000"},
{"offset":0.2,"color":"#0000"},{"offset":0.203,"color":"#000"},{"offset":0.206,"color":"#0000"},
{"offset":0.225,"color":"#0000"},{"offset":0.228,"color":"#000"},{"offset":0.231,"color":"#0000"},
{"offset":0.25,"color":"#0000"},{"offset":0.253,"color":"#000"},{"offset":0.256,"color":"#0000"},
{"offset":0.275,"color":"#0000"},{"offset":0.278,"color":"#000"},{"offset":0.281,"color":"#0000"},
{"offset":0.3,"color":"#0000"},{"offset":0.303,"color":"#000"},{"offset":0.306,"color":"#0000"},
{"offset":0.325,"color":"#0000"},{"offset":0.328,"color":"#000"},{"offset":0.331,"color":"#0000"},
{"offset":0.35,"color":"#0000"},{"offset":0.353,"color":"#000"},{"offset":0.356,"color":"#0000"},
{"offset":0.375,"color":"#0000"},{"offset":0.378,"color":"#000"},{"offset":0.381,"color":"#0000"},
{"offset":0.4,"color":"#0000"},{"offset":0.403,"color":"#000"},{"offset":0.406,"color":"#0000"},
{"offset":0.425,"color":"#0000"},{"offset":0.428,"color":"#000"},{"offset":0.431,"color":"#0000"},
{"offset":0.45,"color":"#0000"},{"offset":0.453,"color":"#000"},{"offset":0.456,"color":"#0000"},
{"offset":0.475,"color":"#0000"},{"offset":0.478,"color":"#000"},{"offset":0.481,"color":"#0000"},
{"offset":0.5,"color":"#0000"},{"offset":0.503,"color":"#000"},{"offset":0.506,"color":"#0000"},
{"offset":0.525,"color":"#0000"},{"offset":0.528,"color":"#000"},{"offset":0.531,"color":"#0000"},
{"offset":0.55,"color":"#0000"},{"offset":0.553,"color":"#000"},{"offset":0.556,"color":"#0000"},
{"offset":0.575,"color":"#0000"},{"offset":0.578,"color":"#000"},{"offset":0.581,"color":"#0000"},
{"offset":0.6,"color":"#0000"},{"offset":0.603,"color":"#000"},{"offset":0.606,"color":"#0000"},
{"offset":0.625,"color":"#0000"},{"offset":0.628,"color":"#000"},{"offset":0.631,"color":"#0000"},
{"offset":0.65,"color":"#0000"},{"offset":0.653,"color":"#000"},{"offset":0.656,"color":"#0000"},
{"offset":0.675,"color":"#0000"},{"offset":0.678,"color":"#000"},{"offset":0.681,"color":"#0000"},
{"offset":0.7,"color":"#0000"},{"offset":0.703,"color":"#000"},{"offset":0.706,"color":"#0000"},
{"offset":0.725,"color":"#0000"},{"offset":0.728,"color":"#000"},{"offset":0.731,"color":"#0000"},
{"offset":0.75,"color":"#0000"},{"offset":0.753,"color":"#000"},{"offset":0.756,"color":"#0000"},
{"offset":0.775,"color":"#0000"},{"offset":0.778,"color":"#000"},{"offset":0.781,"color":"#0000"},
{"offset":0.8,"color":"#0000"},{"offset":0.803,"color":"#000"},{"offset":0.806,"color":"#0000"},
{"offset":0.825,"color":"#0000"},{"offset":0.828,"color":"#000"},{"offset":0.831,"color":"#0000"},
{"offset":0.85,"color":"#0000"},{"offset":0.853,"color":"#000"},{"offset":0.856,"color":"#0000"},
{"offset":0.875,"color":"#0000"},{"offset":0.878,"color":"#000"},{"offset":0.881,"color":"#0000"},
{"offset":0.9,"color":"#0000"},{"offset":0.903,"color":"#000"},{"offset":0.906,"color":"#0000"},
{"offset":0.925,"color":"#0000"},{"offset":0.928,"color":"#000"},{"offset":0.931,"color":"#0000"},
{"offset":0.95,"color":"#0000"},{"offset":0.953,"color":"#000"},{"offset":0.956,"color":"#0000"},
{"offset":0.975,"color":"#0000"},{"offset":0.978,"color":"#000"},{"offset":0.981,"color":"#0000"}
     ]}},
    "encoding": {"x": {"field": "x", "type": "quantitative", "axis": null}, "y": {"field": "lo", "type": "quantitative", "axis": null}, "y2": {"datum": 0}}},
   {"data": {"values": [{"lg": "weak existence, Thm II.2.8"}, {"lg": "weak existence, Thm II.2.5"}]},
    "mark": {"type": "rect", "clip": true},
    "encoding": {
     "x": {"datum": 0, "type": "quantitative", "axis": {"orient": "top", "labels": false, "title": null, "values": [0,1,2,3,4,5,6]}},
     "x2": {"datum": 0},
     "y": {"datum": 0, "type": "quantitative", "axis": {"orient": "right", "labels": false, "title": null, "values": [-0.333333,-0.666667,-1,-2]}},
     "y2": {"datum": 0},
     "fill": {"field": "lg", "type": "nominal", "scale": {"domain": ["weak existence, Thm II.2.8", "weak existence, Thm II.2.5"], "range": ["#aab0ff", "#cfcfcf"]},
      "legend": {"title": null, "legendX": 6, "legendY": 272, "labelOffset": 218, "padding": 13}},
     "stroke": {"field": "lg", "type": "nominal", "scale": {"domain": ["weak existence, Thm II.2.8", "weak existence, Thm II.2.5"], "range": ["#00f", "#000"]},
      "legend": {"title": null, "legendX": 6, "legendY": 272, "labelOffset": 218, "padding": 13}}
    }}
  ]
 },
 {"width": 468, "height": 385,
  "title": {"text": ["Weak existence", "for a measure b ∈ ⋃ₚ∈[1,∞] ℬₚᵝ"], "offset": 22, "lineHeight": 39},
  "data": {"values": [
   {"x":0,"lo":-2},{"x":0.1429,"lo":-2},{"x":0.15,"lo":-1.8333},{"x":0.16,"lo":-1.625},{"x":0.17,"lo":-1.4412},{"x":0.18,"lo":-1.2778},{"x":0.19,"lo":-1.1316},{"x":0.2,"lo":-1},{"x":0.21,"lo":-0.881},{"x":0.22,"lo":-0.7727},{"x":0.23,"lo":-0.6739},{"x":0.24,"lo":-0.5833},{"x":0.25,"lo":-0.5},{"x":0.3333,"lo":-0.3333},{"x":0.35,"lo":-0.25},{"x":0.375,"lo":-0.1389},{"x":0.4,"lo":-0.0417},{"x":0.425,"lo":0.0441},{"x":0.45,"lo":0.1204},{"x":0.475,"lo":0.1886},{"x":0.5,"lo":0.25}
  ]},
  "resolve": {"axis": {"x": "independent", "y": "independent"}},
  "layer": [
   {"mark": {"type": "area", "clip": true, "fill": "#b3d9d9", "stroke": null},
    "encoding": {
     "x": {"field": "x", "type": "quantitative", "scale": {"domain": [0, 0.5], "nice": false, "zero": false}, "axis": {"values": [0,0.1,0.2,0.3,0.4,0.5], "format": "~g", "title": "H", "titlePadding": 10}},
     "y": {"field": "lo", "type": "quantitative", "scale": {"domain": [-2, 1], "nice": false, "zero": false}, "axis": {"values": [1,0.25,0,-0.333333,-1,-2], "labelExpr": "datum.value > 0.5 ? '1' : datum.value > 0.1 ? '1/4' : datum.value > -0.1 ? '0' : datum.value > -0.5 ? '−1/3' : datum.value > -1.5 ? '−1' : '−2'", "title": "β", "titlePadding": 27}},
     "y2": {"datum": 1}}},
   {"mark": {"type": "area", "clip": true, "opacity": 0},
    "encoding": {
     "x": {"field": "x", "type": "quantitative", "axis": {"orient": "top", "labels": false, "title": null, "values": [0,0.1,0.2,0.3,0.4,0.5]}},
     "y": {"field": "lo", "type": "quantitative", "axis": {"orient": "right", "labels": false, "title": null, "values": [1,0.25,0,-0.333333,-1,-2]}},
     "y2": {"datum": 1}}}
  ]
 }
 ]
}
]
}
